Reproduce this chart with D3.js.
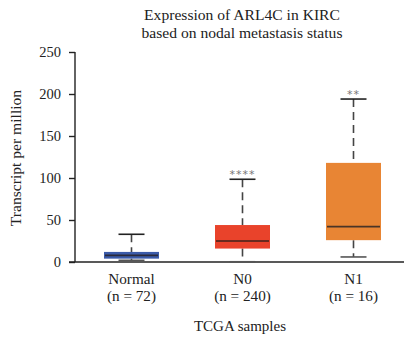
<!DOCTYPE html>
<html>
<head>
<meta charset="utf-8">
<script src="https://cdn.jsdelivr.net/npm/d3@7"></script>
<style>
  html, body { margin: 0; padding: 0; background: #fff; }
  svg { display: block; font-family: "Liberation Serif", "DejaVu Serif", serif; }
</style>
</head>
<body>
<svg id="chart" width="405" height="338"></svg>
<script>
// Groups and their sample counts
const groups = ["Normal", "N0", "N1"];
const counts = [72, 240, 16];
// Box-plot statistics (transcripts per million)
const whiskerLow = [2, 0.3, 6];
const q1 = [4, 16, 26];
const medians = [8, 25, 42];
const q3 = [12, 44, 118];
const whiskerHigh = [33, 98.5, 194];
// Significance marks vs. Normal
const stars = ["", "****", "**"];
const fills = ["#3b5ba9", "#e9432b", "#e88534"];
const medianColors = ["#2a2a3a", "#6b2a1e", "#4a3426"];
const yTicks = [0, 50, 100, 150, 200, 250];

const svg = d3.select("#chart");
const x = d3.scaleBand().domain(groups).range([76, 409]).paddingInner(0).paddingOuter(0);
const y = d3.scaleLinear().domain([0, 250]).range([262, 52]);
const boxW = 55, capW = 26;

// Title
const title = svg.append("text").attr("text-anchor", "middle").attr("font-size", 15.6).attr("fill", "#222");
title.append("tspan").attr("x", 242).attr("y", 19.5).text("Expression of ARL4C in KIRC");
title.append("tspan").attr("x", 242).attr("y", 37.5).text("based on nodal metastasis status");

// Y axis
const yAxis = svg.append("g").attr("transform", "translate(75,0)")
  .call(d3.axisLeft(y).tickValues(yTicks).tickSize(6).tickPadding(8));
yAxis.select(".domain").attr("stroke", "#222").attr("stroke-width", 1.4).attr("d", `M0,${y(250)}V${y(0)}`);
yAxis.selectAll(".tick line").attr("stroke", "#222").attr("stroke-width", 1.4);
yAxis.selectAll(".tick text").attr("font-family", "Liberation Serif").attr("font-size", 14.5).attr("fill", "#222");

svg.append("text")
  .attr("transform", `translate(21,${(y(0) + y(250)) / 2 + 1}) rotate(-90)`)
  .attr("text-anchor", "middle").attr("font-size", 15.6).attr("fill", "#222")
  .text("Transcript per million");

// X baseline
svg.append("line").attr("x1", 69).attr("x2", 404).attr("y1", y(0)).attr("y2", y(0))
  .attr("stroke", "#222").attr("stroke-width", 1.4);

// Boxes
const g = svg.append("g").selectAll("g").data(groups).join("g")
  .attr("transform", d => `translate(${x(d) + x.bandwidth() / 2},0)`);

g.append("line").attr("x1", 0).attr("x2", 0)
  .attr("y1", (d, i) => y(whiskerHigh[i])).attr("y2", (d, i) => y(q3[i]))
  .attr("stroke", "#444").attr("stroke-width", 1.6).attr("stroke-dasharray", "8,5");
g.append("line").attr("x1", 0).attr("x2", 0)
  .attr("y1", (d, i) => y(q1[i])).attr("y2", (d, i) => y(whiskerLow[i]))
  .attr("stroke", "#444").attr("stroke-width", 1.6).attr("stroke-dasharray", "8,5");

g.append("line").attr("x1", -capW / 2).attr("x2", capW / 2)
  .attr("y1", (d, i) => y(whiskerHigh[i])).attr("y2", (d, i) => y(whiskerHigh[i]))
  .attr("stroke", "#222").attr("stroke-width", 1.6);
g.append("line").attr("x1", -capW / 2).attr("x2", capW / 2)
  .attr("y1", (d, i) => y(whiskerLow[i])).attr("y2", (d, i) => y(whiskerLow[i]))
  .attr("stroke", "#555").attr("stroke-width", 1.6);

g.append("rect").attr("x", -boxW / 2).attr("width", boxW)
  .attr("y", (d, i) => y(q3[i])).attr("height", (d, i) => y(q1[i]) - y(q3[i]))
  .attr("fill", (d, i) => fills[i]);

g.append("line").attr("x1", -boxW / 2 + 1).attr("x2", boxW / 2 - 1)
  .attr("y1", (d, i) => y(medians[i])).attr("y2", (d, i) => y(medians[i]))
  .attr("stroke", (d, i) => medianColors[i]).attr("stroke-width", 1.8);

g.append("text").attr("text-anchor", "middle").attr("font-family", "DejaVu Sans")
  .attr("font-size", 11).attr("letter-spacing", 1).attr("fill", "#777")
  .attr("y", (d, i) => y(whiskerHigh[i]) - 1.5)
  .text((d, i) => stars[i]);

// Category labels
const lab = svg.append("g").selectAll("text").data(groups).join("text")
  .attr("text-anchor", "middle").attr("font-size", 15.2).attr("fill", "#222");
lab.append("tspan").attr("x", d => x(d) + x.bandwidth() / 2).attr("y", 284).text(d => d);
lab.append("tspan").attr("x", d => x(d) + x.bandwidth() / 2).attr("y", 301)
  .text((d, i) => `(n = ${counts[i]})`);

svg.append("text").attr("x", 240).attr("y", 331).attr("text-anchor", "middle")
  .attr("font-size", 15).attr("fill", "#222").text("TCGA samples");
</script>
</body>
</html>
